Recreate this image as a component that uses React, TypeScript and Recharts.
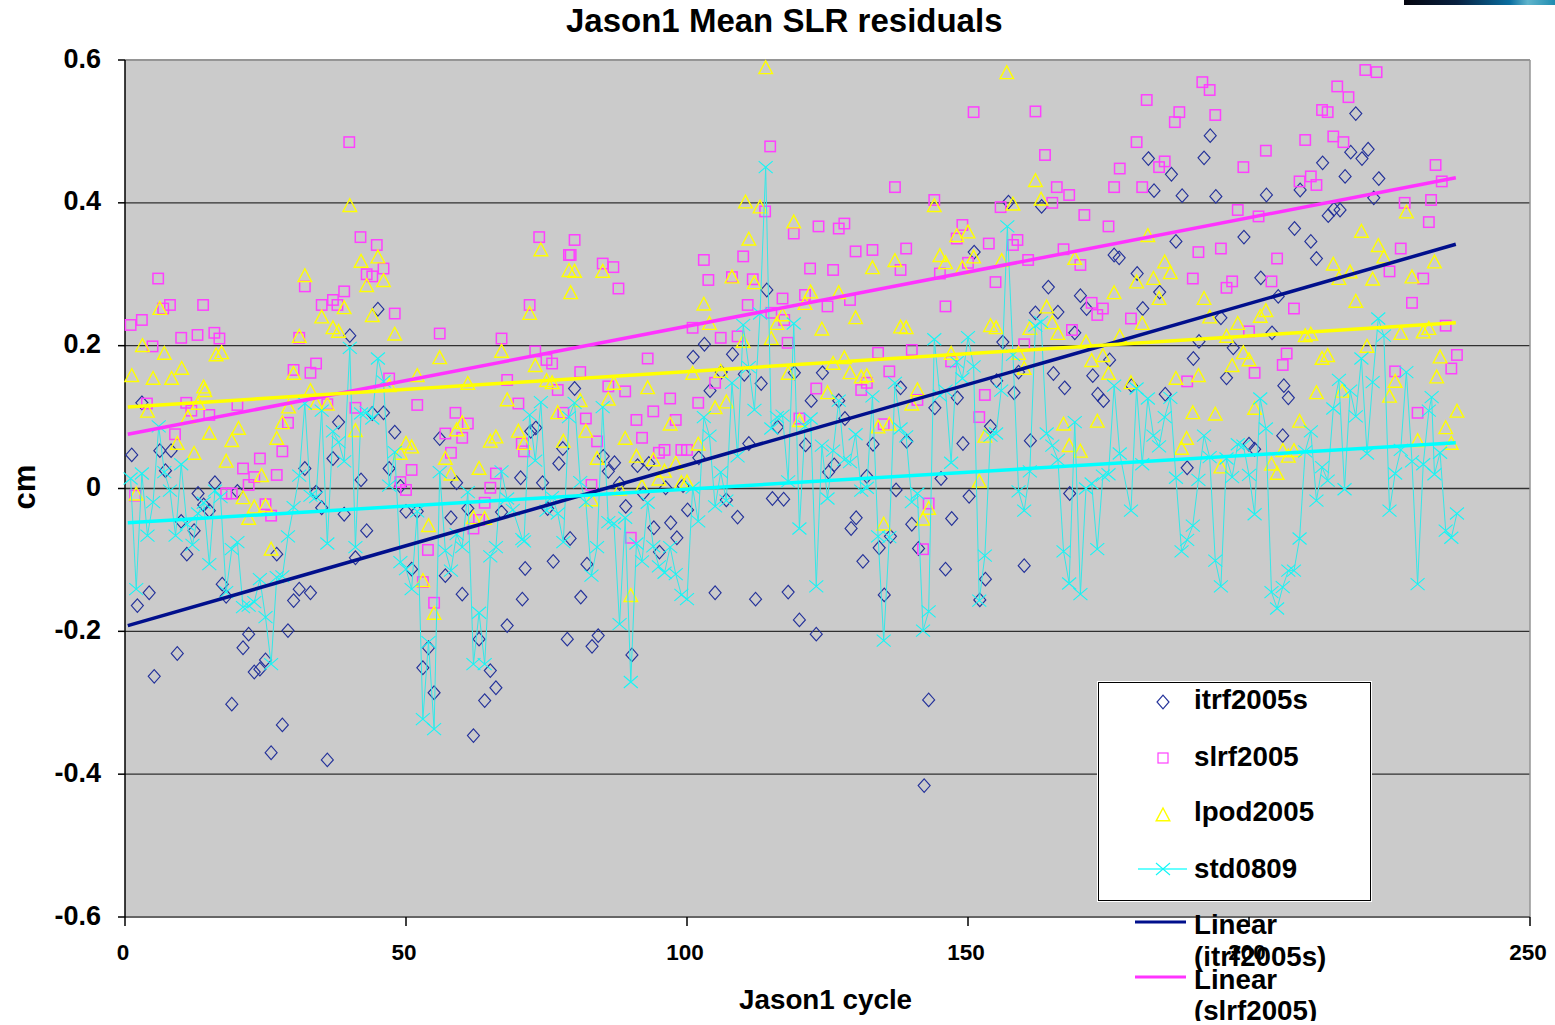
import React from 'react';
import { ScatterChart, Scatter, XAxis, YAxis, CartesianGrid, ReferenceLine } from 'recharts';

type P = [number, number];

const xTicks = [0, 50, 100, 150, 200, 250];
const yTicks = [-0.6, -0.4, -0.2, 0, 0.2, 0.4, 0.6];
const gridValues = [-0.4, -0.2, 0, 0.2, 0.4];

const itrf: P[] = [[1.2,.047],[2.2,-.164],[3,.12],[4.3,-.146],[5.2,-.263],[6.2,.053],[7.2,.025],[8.2,.053],[9.3,-.231],[10,-.046],[11,-.092],[12.3,-.059],[13,-.007],[14,-.023],[15,-.031],[16,.008],[17.3,-.134],[18,-.151],[19,-.302],[20,-.004],[21,-.223],[22,-.204],[23,-.257],[24,-.253],[25,-.24],[26,-.37],[27,-.092],[28,-.331],[29,-.199],[30,-.157],[31,-.141],[32,.028],[33,-.146],[34,-.005],[35,-.027],[36,-.38],[37,.042],[38,.093],[39,-.036],[40,.214],[41,-.097],[42,.012],[43,-.059],[44,.105],[45,.251],[46,.106],[47,.028],[48,.079],[49,.003],[50,-.032],[51,-.113],[52,-.032],[53,-.251],[54,-.223],[55,-.286],[56,.07],[57,-.122],[58,-.041],[59,.008],[60,-.148],[61,-.028],[62,-.346],[63,-.211],[64,-.297],[65,-.255],[66,-.279],[67,-.033],[68,-.192],[70.4,.015],[70.7,-.155],[71.2,-.112],[72.2,.08],[73.1,.085],[74.3,.008],[75.2,-.028],[76.2,-.102],[77.2,.035],[77.9,.056],[78.7,-.211],[79.2,-.07],[80,.14],[81.1,-.152],[82.2,-.106],[83.1,-.221],[84.2,-.206],[85.1,.045],[86,.024],[87.1,.036],[88,.007],[89.1,-.025],[90.2,-.233],[91.2,.032],[92.2,-.007],[93.2,.035],[94.1,-.055],[95.1,-.089],[96.2,.001],[97.1,-.048],[98.2,-.069],[99.3,.004],[100.1,-.03],[101.1,.184],[102.1,.043],[103.1,.202],[104.1,.137],[105,-.146],[106.1,.163],[107,-.016],[108.1,.188],[109,-.04],[110.2,.16],[111,.063],[112.2,-.155],[113.2,.147],[114.2,.278],[115.2,-.014],[116.1,.086],[117.2,-.015],[118,-.145],[119.1,.162],[120,-.184],[121.1,.061],[122.1,.123],[123,-.204],[124.1,.162],[125.2,.023],[126.2,.033],[127,.123],[128.1,.098],[129.2,-.056],[130.1,-.041],[131.3,-.102],[132,.017],[133.1,.062],[134.2,-.083],[135.1,-.149],[136.2,-.067],[137.2,-.002],[138,.141],[139.1,.066],[140,-.05],[141.2,-.084],[142.2,-.416],[143,-.296],[144.1,.113],[145.2,.014],[146,-.113],[147.1,-.042],[148.1,.127],[149.1,.063],[150.2,-.011],[151.1,.331],[152.1,-.156],[153.1,-.127],[154,.087],[155.1,.151],[156.2,.205],[157.2,.401],[158.2,.134],[159,.163],[160,-.108],[161.1,.067],[162,.246],[163.1,.395],[164.3,.282],[165.2,.161],[166,.247],[167.2,.141],[168.1,-.007],[169,.218],[170,.27],[171.1,.252],[172.2,.158],[173.1,.132],[174.1,.123],[175.2,.18],[176,.327],[176.9,.323],[179.1,.144],[180.1,.301],[181.1,.252],[182.1,.462],[183.1,.417],[184.1,.275],[185.1,.132],[186.2,.44],[187,.346],[188.1,.41],[189,.029],[190.1,.182],[191.1,.206],[192,.463],[193.1,.494],[194.1,.409],[195,.239],[196,.155],[197.2,.197],[199.1,.352],[200,.062],[201,.055],[202.1,.295],[203.1,.411],[204.1,.218],[205.2,.269],[206,.074],[206.2,.144],[207,.127],[208.1,.364],[209.1,.418],[211,.346],[212,.322],[213.1,.456],[214.1,.382],[215.1,.391],[216.2,.39],[217.1,.437],[218.1,.471],[219,.525],[220.1,.462],[221.2,.475],[222.2,.407],[223.1,.434]];

const slrf: P[] = [[1,.229],[1.8,-.01],[3,.236],[3.9,.119],[4.9,.199],[5.9,.294],[6.8,.252],[8,.257],[8.9,.076],[10,.211],[10.9,.12],[11.8,.109],[12.9,.215],[13.9,.257],[15,.103],[15.9,.218],[16.8,.21],[18,-.007],[19,-.007],[20,.117],[21,.028],[22,.005],[23,.016],[24,.042],[25,-.022],[26,-.038],[27,.019],[28,.052],[29,.092],[30,.166],[31,.211],[32,.283],[33,.162],[34,.175],[35,.257],[36,.118],[37,.264],[37.8,.257],[39,.276],[39.9,.485],[41,.113],[41.9,.352],[43,.3],[44,.297],[44.8,.341],[46,.308],[47,.154],[48,.245],[49,.009],[50,-.002],[51,.026],[52,.117],[53,-.131],[53.9,-.086],[55,-.16],[56,.217],[57,.077],[58,.05],[58.8,.106],[60,.071],[61,.091],[62,-.056],[63,-.044],[64,-.02],[65,.001],[66,.021],[67,.21],[68,.152],[70,.119],[70.6,.063],[71,.052],[72,.257],[73,.192],[73.7,.352],[75,.18],[76,.175],[77,.138],[78,.106],[79,.327],[79.3,.327],[80,.348],[81,.163],[82,.098],[83,.005],[84,.066],[85,.315],[86,.143],[86.9,.31],[87.8,.28],[89,.136],[90,-.069],[91,.096],[92,.071],[93,.182],[94,.108],[95,.05],[96,.054],[97,.126],[98,.096],[99,.054],[100,.054],[101,.225],[102,.12],[103,.32],[103.8,.292],[105,.148],[106,.211],[108,.296],[109,.213],[110,.325],[110.8,.257],[111.7,.293],[113.9,.388],[114.8,.479],[115,.246],[117,.266],[117.3,.236],[117.9,.204],[119,.357],[120,.098],[121,.271],[121.9,.308],[123,.14],[123.4,.367],[125,.255],[126,.306],[127,.364],[128,.371],[129,.264],[130,.332],[131,.138],[132,.148],[133,.334],[134,.19],[135,.09],[136,.164],[137,.422],[138,.306],[139,.336],[140,.194],[141,.124],[142,-.085],[143,-.021],[144,.404],[145,.301],[146,.255],[147,.178],[148,.35],[149,.369],[150,.316],[151,.527],[152,.1],[153,.131],[153.7,.343],[154.9,.289],[155.8,.394],[158,.341],[158.8,.348],[160,.202],[160.7,.32],[162,.528],[163.7,.467],[165,.4],[165.8,.422],[167,.335],[168,.411],[168.5,.222],[170,.313],[170.7,.383],[172,.26],[173,.243],[174,.252],[175,.367],[176,.422],[177,.448],[179,.238],[180,.485],[181,.422],[181.8,.544],[184,.45],[185,.458],[186.8,.513],[187.6,.527],[189,.15],[190,.294],[191,.331],[191.7,.569],[193,.558],[194,.523],[195,.336],[196,.281],[197,.29],[198,.39],[199,.45],[200,.22],[201,.162],[201.7,.381],[203,.473],[204,.29],[205,.322],[206,.173],[206.7,.189],[208,.252],[209,.43],[210,.488],[211,.437],[212,.425],[213,.53],[214,.527],[215,.493],[215.7,.563],[216.8,.485],[217.7,.548],[220.7,.586],[222.7,.583],[225,.304],[226,.164],[227,.336],[227.7,.4],[229,.26],[230,.106],[231,.294],[232,.373],[232.4,.404],[233.2,.453],[234.3,.43],[235,.228],[236,.168],[237,.187]];

const lpod: P[] = [[1.2,.158],[2,-.008],[3.1,.2],[4,.108],[5,.154],[6.2,.252],[7,.189],[8.3,.154],[9.3,.063],[10.1,.168],[11.2,.1],[12.3,.049],[13,.119],[14,.142],[14.2,.137],[15,.077],[16.2,.187],[17.2,.19],[18,.038],[19,.067],[20.2,.084],[21,-.013],[22,-.042],[23,-.026],[24.3,.018],[25,-.024],[26,-.085],[27,.07],[28,.092],[29.1,.114],[30,.161],[31,.213],[32,.298],[33,.137],[34,.119],[35,.24],[36,.118],[37,.225],[38,.22],[39,.253],[40,.396],[41,.081],[42,.318],[43,.284],[44,.242],[45,.324],[46,.291],[47,.144],[48,.216],[49,.049],[50,.063],[51,.058],[52,.158],[53,-.129],[54,-.052],[55,-.175],[56,.183],[57,.042],[58,.02],[59,.082],[60,.092],[61,.147],[62,-.041],[63,.028],[64,-.042],[65,.066],[66,.072],[67,.192],[68,.124],[70,.08],[71,.063],[72,.245],[73,.172],[74,.334],[75,.151],[76,.148],[77,.106],[78,.066],[79,.305],[79.3,.274],[80,.304],[81,.123],[82,.08],[83,-.016],[84,.042],[85,.304],[86,.125],[87,.147],[88,-.001],[89,.07],[90,-.15],[91,.045],[92,.003],[93,.141],[94,.04],[95,.013],[96,.024],[97,.09],[98,.035],[99,.008],[100,.009],[101,.161],[102,.062],[103,.258],[104,.231],[105,.113],[106,.164],[107,.121],[108,.296],[110,.206],[110.4,.401],[111,.349],[112,.288],[113,.394],[114,.589],[115,.21],[116,.231],[117,.243],[118,.161],[119,.373],[120,.095],[121,.259],[122,.275],[124,.223],[125,.134],[126,.175],[127,.274],[128,.183],[129,.162],[130,.239],[131,.156],[132,.158],[133,.309],[134,.086],[135,-.05],[136,.09],[137,.319],[138,.226],[139,.225],[140,.118],[141,.138],[142,-.043],[143,-.028],[144,.396],[145,.326],[146,.316],[147,.189],[148,.354],[149,.309],[150,.359],[151,.324],[152,.01],[153,.073],[154,.228],[155,.225],[156,.319],[156.9,.582],[158,.398],[159,.189],[160,.168],[161,.224],[162,.431],[163,.405],[164,.254],[165,.232],[166,.217],[167,.09],[168,.06],[169,.322],[170,.052],[171,.205],[172,.179],[173,.094],[174,.186],[175,.161],[176,.274],[177,.213],[179,.148],[180,.289],[181,.231],[182,.354],[183,.294],[184,.266],[185,.317],[186,.302],[187,.154],[188,.056],[188.9,.07],[190,.106],[191,.158],[192,.266],[193,.24],[194,.104],[195,.03],[196,.213],[197,.172],[198,.231],[199,.19],[200,.18],[201,.112],[202,.241],[203,.249],[204,.034],[205,.021],[206,.053],[207,.045],[208,.053],[209,.094],[210,.214],[211,.216],[212,.134],[213,.182],[214,.186],[215,.314],[216,.294],[216.6,.136],[218,.303],[219,.262],[220,.36],[221,.199],[222,.293],[223,.34],[224,.324],[225,.129],[226,.15],[227,.217],[228,.387],[229,.296],[230,.067],[231,.219],[232,.224],[233,.317],[233.4,.156],[234,.184],[235,.085],[236,.063],[237,.108]];

const std: P[] = [[1,.014],[2,-.141],[3,.021],[4,-.066],[5,-.019],[6,.087],[7,.023],[8,-.003],[9,-.066],[10,.034],[11,-.05],[12,-.079],[13,-.035],[14,-.02],[15,-.106],[16,-.003],[17,-.012],[18,-.145],[19,-.085],[20,-.075],[21,-.166],[22,-.164],[23,-.159],[24,-.127],[25,-.18],[26,-.246],[27,-.124],[28,-.123],[29,-.067],[30,-.026],[31,.018],[32,.119],[33,-.01],[34,-.012],[35,.109],[36,-.077],[37,.08],[38,.065],[39,.038],[40,.197],[41,-.082],[42,.105],[43,.107],[44,.098],[45,.182],[46,.15],[47,.004],[48,.051],[49,-.103],[50,-.113],[51,-.141],[52,-.032],[53,-.323],[54,-.215],[55,-.337],[56,.023],[57,-.087],[58,-.115],[59,-.064],[60,-.082],[61,-.005],[62,-.246],[63,-.174],[64,-.246],[65,-.095],[66,-.082],[67,.024],[68,-.014],[69,-.03],[70.7,-.071],[71,-.074],[72,.103],[73,.039],[74,.121],[75,-.031],[76,-.012],[77,-.035],[78,-.075],[79,.1],[80,.12],[81,.009],[82,-.019],[83,-.122],[84,-.082],[85,.114],[86,-.047],[87,-.049],[88,-.19],[89,-.041],[90,-.271],[91,-.077],[92,-.102],[93,-.02],[94,-.081],[95,-.109],[96,-.118],[97,-.082],[98,-.12],[99,-.149],[100,-.155],[101,.001],[102,-.046],[103,.1],[104,.074],[105,-.025],[106,.023],[107,-.017],[108,.148],[109,.045],[110,.229],[111,.17],[112,.11],[113,.245],[114,.45],[115,.084],[116,.1],[117,.102],[118,.01],[119,.231],[120,-.056],[121,.087],[122,.098],[123,-.137],[124,.06],[125,-.014],[126,.053],[127,.123],[128,.04],[129,.037],[130,.076],[131,-.003],[132,.001],[133,.129],[134,-.067],[135,-.213],[136,-.068],[137,.148],[138,.084],[139,.073],[140,-.019],[141,-.007],[142,-.199],[143,-.172],[144,.209],[145,.13],[146,.137],[147,.036],[148,.177],[149,.154],[150,.212],[151,.171],[152,-.157],[153,-.094],[154,.074],[155,.077],[155.9,.137],[157,.367],[158,.187],[159,-.004],[160,-.031],[161,.024],[162,.228],[163,.233],[164,.077],[165,.06],[166,.04],[167,-.088],[168,-.133],[169,.093],[170,-.148],[171,0],[172,.007],[173,-.085],[174,.018],[175,.02],[176,.144],[177,.049],[179,-.031],[180,.14],[181,.034],[182,.126],[183,.074],[184,.059],[185,.1],[186,.127],[187,.015],[188,-.088],[189,-.072],[190,-.052],[191,.012],[192,.074],[193,.044],[194,-.101],[195,-.137],[196,.042],[197,.016],[198,.062],[199,.06],[200,.019],[201,-.036],[202,.126],[203,.084],[204,-.145],[205,-.168],[206,-.138],[207,-.115],[208,-.115],[209,-.07],[210,.052],[211,.08],[212,-.017],[213,.03],[214,.011],[215,.112],[216,.152],[217,-.001],[218,.137],[219,.101],[220,.182],[221,.049],[222,.149],[223,.238],[224,.214],[225,-.031],[226,.021],[227,.054],[228,.163],[229,.038],[230,-.134],[231,.034],[232,.109],[232.5,.128],[233,.02],[234,.05],[235,-.059],[236,-.069],[237,-.035]];

const trendItrf: P[] = [[0.5,-.192],[236.8,.342]];
const trendSlrf: P[] = [[0.5,.076],[236.8,.435]];
const trendLpod: P[] = [[0.5,.114],[236.8,.232]];
const trendStd: P[] = [[0.5,-.048],[236.8,.064]];

const toRows = (pts: P[]) => pts.map(([x, y]) => ({ x, y }));

const BLUE = '#24329a';
const MAGENTA = '#ff40ff';
const YELLOW = '#ffff00';
const CYAN = '#14f6f6';

const Diamond = (p: any) => <path d={`M${p.cx} ${p.cy - 6.8}L${p.cx + 6} ${p.cy}L${p.cx} ${p.cy + 6.8}L${p.cx - 6} ${p.cy}Z`} fill="none" stroke={BLUE} strokeWidth={1.15} />;
const Square = (p: any) => <rect x={p.cx - 5.2} y={p.cy - 5.2} width={10.4} height={10.4} fill="none" stroke={MAGENTA} strokeWidth={1.5} />;
const Triangle = (p: any) => <path d={`M${p.cx} ${p.cy - 7}L${p.cx + 6.8} ${p.cy + 5.8}L${p.cx - 6.8} ${p.cy + 5.8}Z`} fill="none" stroke={YELLOW} strokeWidth={1.4} />;
const Star = (p: any) => (
  <path d={`M${p.cx - 7} ${p.cy - 6}L${p.cx + 7} ${p.cy + 6}M${p.cx + 7} ${p.cy - 6}L${p.cx - 7} ${p.cy + 6}`} fill="none" stroke={CYAN} strokeWidth={1.1} />
);
const NoMark = () => null;

const bold = { fontFamily: '"Liberation Sans", Arial, sans-serif', fontWeight: 700, color: '#000' } as const;

const txt = (left: number, top: number, size: number, s: string) => (
  <div style={{ ...bold, position: 'absolute', left, top, fontSize: size, lineHeight: `${size}px`, whiteSpace: 'nowrap' }}>{s}</div>
);

const legendRows: [string, number, number][] = [
  ['itrf2005s', 701, 1],
  ['slrf2005', 758, 2],
  ['lpod2005', 813, 3],
  ['std0809', 870, 4],
];

const mark = (kind: number, y: number) => {
  const cx = 1163;
  if (kind === 1) return <Diamond cx={cx} cy={y + 1} />;
  if (kind === 2) return <rect x={cx - 5} y={y - 5} width={10} height={10} fill="none" stroke={MAGENTA} strokeWidth={1.2} />;
  if (kind === 3) return <Triangle cx={cx} cy={y + 2} />;
  return (
    <g>
      <line x1={1138} x2={1187} y1={y - 1} y2={y - 1} stroke="#33ffff" strokeWidth={1.5} />
      <Star cx={cx} cy={y - 1} />
    </g>
  );
};

export default function App() {
  return (
    <div style={{ position: 'absolute', left: 0, top: 0, width: 1555, height: 1021, background: '#fff', overflow: 'hidden' }}>
      <div style={{ position: 'absolute', left: 1404, top: 0, width: 151, height: 5, background: 'linear-gradient(90deg,#05060f 0%,#08203f 35%,#0a6ea0 70%,#5fb4cc 82%,#1f8cb0 100%)' }} />
      <ScatterChart width={1555} height={1025} margin={{ top: 60, right: 25, bottom: 0, left: 0 }}>
        <CartesianGrid vertical={false} fill="#cbcbcb" stroke="#303030" strokeWidth={1.3} horizontalValues={gridValues} />
        <XAxis
          type="number"
          dataKey="x"
          domain={[0, 250]}
          ticks={xTicks}
          height={108}
          interval={0}
          axisLine={{ stroke: '#666', strokeWidth: 2 }}
          tickLine={{ stroke: '#000', strokeWidth: 1.5 }}
          tickSize={9}
          tick={{ fontFamily: 'Liberation Sans', fontWeight: 700, fontSize: 22.5, fill: '#000', dx: -2 }}
          tickMargin={18}
        />
        <YAxis
          type="number"
          dataKey="y"
          domain={[-0.6, 0.6]}
          ticks={yTicks}
          width={125}
          interval={0}
          axisLine={{ stroke: '#000', strokeWidth: 1.5 }}
          tickLine={{ stroke: '#000', strokeWidth: 1.5 }}
          tickSize={7}
          tickFormatter={(v: number) => (v === 0 ? '0' : v.toFixed(1))}
          tick={{ fontFamily: 'Liberation Sans', fontWeight: 700, fontSize: 27, fill: '#000', dy: -2 }}
          tickMargin={17}
        />
        <ReferenceLine y={0.6} stroke="#959595" strokeWidth={2} />
        <ReferenceLine x={250} stroke="#959595" strokeWidth={1.5} />
        <Scatter data={toRows(itrf)} shape={Diamond} isAnimationActive={false} />
        <Scatter data={toRows(slrf)} shape={Square} isAnimationActive={false} />
        <Scatter data={toRows(lpod)} shape={Triangle} isAnimationActive={false} />
        <Scatter data={toRows(std)} shape={Star} line={{ stroke: '#33e8e8', strokeWidth: 1 }} isAnimationActive={false} />
        <Scatter data={toRows(trendItrf)} shape={NoMark} line={{ stroke: '#000f8c', strokeWidth: 3.5 }} isAnimationActive={false} />
        <Scatter data={toRows(trendSlrf)} shape={NoMark} line={{ stroke: '#ff33ff', strokeWidth: 3.5 }} isAnimationActive={false} />
        <Scatter data={toRows(trendLpod)} shape={NoMark} line={{ stroke: '#ffff00', strokeWidth: 3.5 }} isAnimationActive={false} />
        <Scatter data={toRows(trendStd)} shape={NoMark} line={{ stroke: '#00ffff', strokeWidth: 3.5 }} isAnimationActive={false} />
      </ScatterChart>

      {txt(566, 4, 33, 'Jason1 Mean SLR residuals')}
      {txt(739, 986, 27.8, 'Jason1 cycle')}
      <div style={{ ...bold, position: 'absolute', left: 24, top: 487, fontSize: 31, lineHeight: '31px', transform: 'translate(-50%,-50%) rotate(-90deg)' }}>cm</div>

      <div style={{ position: 'absolute', left: 1098, top: 682, width: 271, height: 217, background: '#fff', border: '1.5px solid #000', outline: '1px solid #fff' }} />
      <svg width={1555} height={1025} style={{ position: 'absolute', left: 0, top: 0 }}>
        {legendRows.map(([, y, k]) => <g key={k}>{mark(k, y)}</g>)}
        <line x1={1135} x2={1186} y1={922} y2={922} stroke="#000f8c" strokeWidth={3} />
        <line x1={1135} x2={1186} y1={977} y2={977} stroke="#ff33ff" strokeWidth={3} />
      </svg>
      {legendRows.map(([name, y]) => <React.Fragment key={name}>{txt(1194, y - 15, 27.7, name)}</React.Fragment>)}
      {txt(1194, 911, 27.7, 'Linear')}
      {txt(1194, 943, 27.7, '(itrf2005s)')}
      {txt(1194, 966, 27.7, 'Linear')}
      {txt(1194, 997, 27.7, '(slrf2005)')}
    </div>
  );
}
